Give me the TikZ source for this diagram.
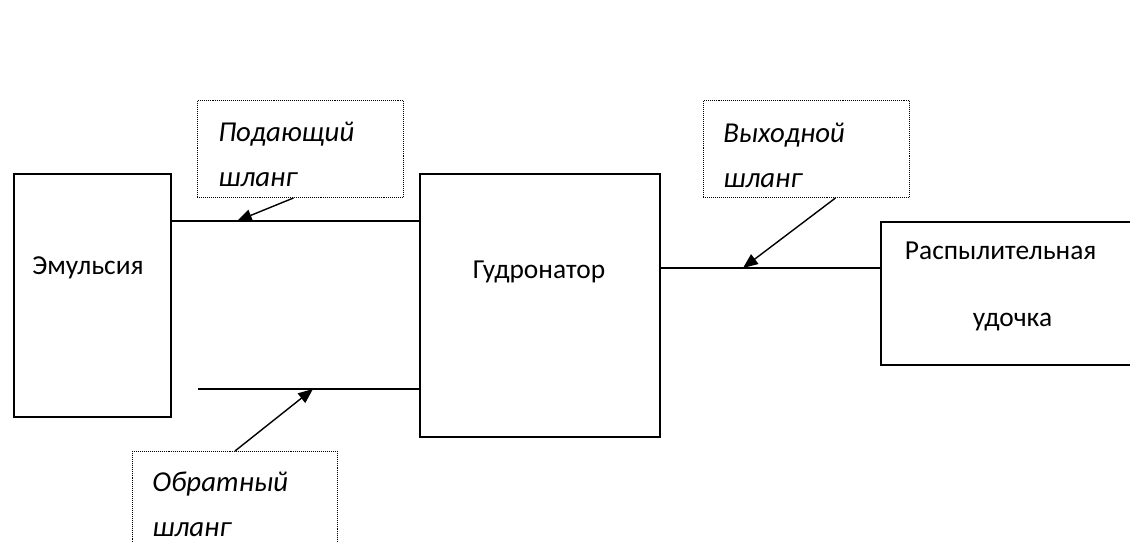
\documentclass[tikz,border=0pt]{standalone}
\usepackage{fontspec}
\setmainfont{Carlito}
\usetikzlibrary{positioning, calc, arrows.meta}
\newcommand\bigfont{\fontsize{19.5}{32}\selectfont}
\newcommand\tagfont{\fontsize{20.5}{32}\selectfont\itshape}
\tikzset{blk/.style={draw, line width=1.4pt, inner sep=0pt, anchor=north west}}
\tikzset{tag/.style={draw, line width=0.7pt, dash pattern=on 0.7pt off 0.7pt, inner sep=0pt, anchor=north west}}
\tikzset{tagtxt/.style={font=\tagfont, align=left, inner sep=0pt, anchor=north west}}
\tikzset{hose/.style={draw, line width=1.4pt}}
\tikzset{arr/.style={draw, line width=1pt, -{Triangle[length=0.37cm, width=0.3cm]}}}

\begin{document}
\begin{tikzpicture}[font=\bigfont]
	\useasboundingbox (0,0) rectangle (28.25,-13.55);
	% blocks
	\node[blk, minimum width=3.925cm, minimum height=6.075cm] (emul) at (0.325,-4.325) {};
	\node[anchor=base] (emultxt) at (2.2,-6.875) {Эмульсия};
	\node[blk, minimum width=6cm, minimum height=6.575cm] (hydro) at (10.475,-4.325) {};
	\node[anchor=base west] (hydrotxt) at (11.7,-6.975) {Гудронатор};
	\node[blk, minimum width=7cm, minimum height=3.575cm] (spray) at (22,-5.525) {};
	\node[anchor=base west] (spraytxt) at (22.5,-6.5) {Распылительная};
	\node[anchor=base west] (spraytxt2) at (24.2,-8.175) {удочка};

	% hoses
	\draw[hose] ([yshift=-1.2cm]emul.north east) -- ([yshift=-1.2cm]hydro.north west);
	\coordinate (retend) at (4.95,-9.725);
	\draw[hose] (retend) -- (retend -| hydro.west);
	\coordinate (outA) at ([yshift=-2.375cm]hydro.north east);
	\draw[hose] (outA) -- (outA -| spray.west);

	% callouts
	\node[tag, minimum width=5.15cm, minimum height=2.425cm] (lsup) at (4.925,-2.5) {};
	\node[tagtxt] (lsuptxt) at (5.45,-3.05) {Подающий\\шланг};
	\node[tag, minimum width=5.15cm, minimum height=2.425cm] (lout) at (17.575,-2.5) {};
	\node[tagtxt] (louttxt) at (18.075,-3.075) {Выходной\\шланг};
	\node[tag, minimum width=5.125cm, minimum height=3cm] (lret) at (3.3,-11.275) {};
	\node[tagtxt] (lrettxt) at (3.8,-11.8) {Обратный\\шланг};

	\coordinate (suphit) at (5.925,-5.525);
	\coordinate (outhit) at (18.575,-6.7);
	\coordinate (rethit) at (7.825,-9.725);
	\draw[arr] ([xshift=-0.175cm]lsup.south) -- (suphit);
	\draw[arr] ([xshift=0.725cm]lout.south) -- (outhit);
	\draw[arr] (lret.north) -- (rethit);
\end{tikzpicture}
\end{document}
